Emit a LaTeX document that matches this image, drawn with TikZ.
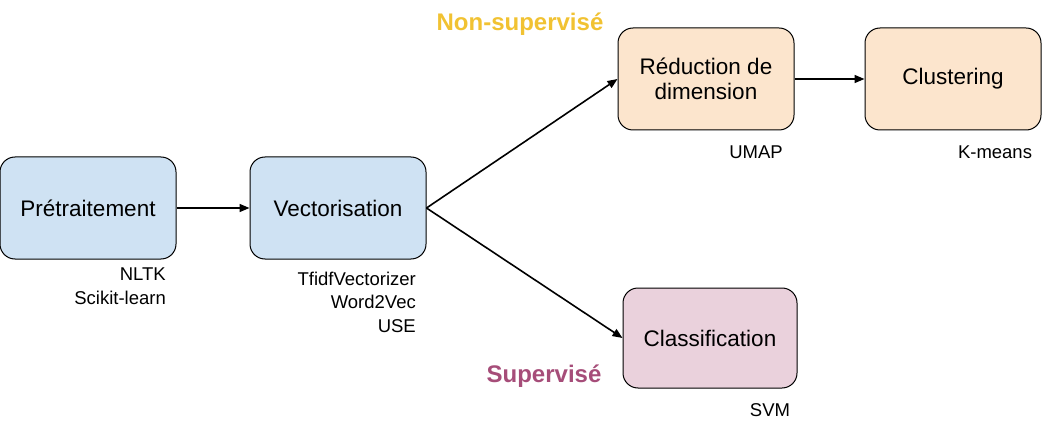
\documentclass[tikz,border=0pt]{standalone}
\usepackage{fontspec}
\setmainfont{Liberation Sans}
\usetikzlibrary{arrows.meta,positioning}
\definecolor{bleu}{HTML}{CFE2F3}
\definecolor{peche}{HTML}{FCE5CD}
\definecolor{rose}{HTML}{EAD1DC}
\definecolor{jaune}{HTML}{F1C232}
\definecolor{prune}{HTML}{A64D79}
\begin{document}
\begin{tikzpicture}[x=1pt,y=-1pt,
    etape/.style={draw,line width=1pt,rounded corners=15pt,
        minimum width=176pt,minimum height=102pt,align=center,
        font=\fontsize{22.5}{25}\selectfont},
    outil/.style={inner sep=0pt,font=\fontsize{18.5}{23.5}\selectfont},
    titre/.style={inner sep=0pt,font=\bfseries\fontsize{24}{28}\selectfont},
    fleche/.style={-{Triangle[length=10pt,width=8pt]},line width=1.6pt}]
    \useasboundingbox (0,0) rectangle (1043,430);
    % etapes
    \node[etape,fill=bleu] (pre) at (88,208) {Prétraitement};
    \node[etape,fill=bleu] (vec) at (338,208) {Vectorisation};
    \node[etape,fill=peche] (red) at (706,79) {Réduction de\\dimension};
    \node[etape,fill=peche] (clu) at (953,79) {Clustering};
    \node[etape,fill=rose,minimum width=174pt,minimum height=100pt] (cla) at (710,338) {Classification};
    % outils
    \node[outil,anchor=east,align=right] (lpre) at (166,286) {NLTK\\Scikit-learn};
    \node[outil,anchor=east,align=right] (lvec) at (416,302) {TfidfVectorizer\\Word2Vec\\USE};
    \node[outil] (lred) at (756,152) {UMAP};
    \node[outil] (lclu) at (995,152) {K-means};
    \node[outil] (lcla) at (770,410) {SVM};
    % titres
    \node[titre,text=jaune] (nsup) at (520,24) {Non-supervisé};
    \node[titre,text=prune] (sup) at (544,376) {Supervisé};
    % fleches
    \draw[fleche] (pre) -- (vec);
    \draw[fleche] (vec.east) -- (red.west);
    \draw[fleche] (vec.east) -- (cla.west);
    \draw[fleche] (red) -- (clu);
\end{tikzpicture}
\end{document}
